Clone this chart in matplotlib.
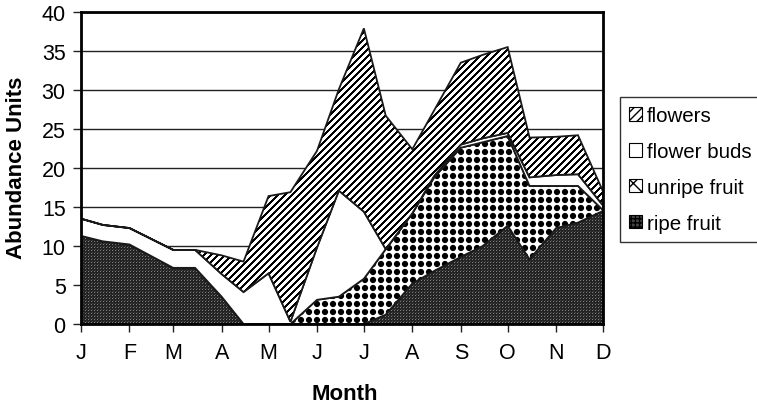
import datetime as dt

import numpy as np
import matplotlib
matplotlib.use("Agg")
import matplotlib.pyplot as plt
import matplotlib.dates as mdates
from matplotlib.patches import Patch, Polygon

plt.rcParams['font.family'] = ['Liberation Sans', 'DejaVu Sans']

# Sampling dates (1st and 15th of each month)
sample_dates = [
    (1, 1), (1, 15), (2, 1), (2, 15), (3, 1), (3, 15), (4, 1), (4, 15),
    (5, 1), (5, 15), (6, 1), (6, 15), (7, 1), (7, 15), (8, 1), (8, 15),
    (9, 1), (9, 15), (10, 1), (10, 15), (11, 1), (11, 15), (12, 1),
]

# Abundance per phenophase (stacked bottom to top)
ripe_fruit = [11.3, 10.6, 10.2, 8.7, 7.2, 7.2, 3.5, 0.0,
              0.0, 0.0, 0.0, 0.0, 0.0, 1.2, 5.2, 6.8,
              8.6, 10.0, 12.6, 8.3, 12.3, 13.0, 14.5]
unripe_fruit = [0.0, 0.0, 0.0, 0.0, 0.0, 0.0, 0.0, 0.0,
                0.0, 0.0, 3.1, 3.5, 5.8, 8.4, 9.0, 12.0,
                14.0, 13.3, 11.5, 9.4, 5.4, 4.7, 0.1]
flower_buds = [2.2, 2.1, 2.1, 2.2, 2.3, 2.3, 2.9, 4.1,
               6.5, 0.3, 6.7, 13.6, 8.6, 0.0, 0.0, 0.2,
               0.4, 0.5, 0.4, 1.1, 1.4, 1.5, 0.6]
flowers = [0.0, 0.0, 0.0, 0.0, 0.0, 0.0, 2.4, 3.9,
           9.9, 16.6, 12.4, 13.0, 23.5, 17.1, 8.2, 8.4,
           10.5, 10.7, 11.0, 5.1, 4.9, 5.0, 1.8]

series_names = ['ripe fruit', 'unripe fruit', 'flower buds', 'flowers']
month_labels = ['J', 'F', 'M', 'A', 'M', 'J', 'J', 'A', 'S', 'O', 'N', 'D']
year = 2005

W, H = 757, 406
fig = plt.figure(figsize=(W / 100, H / 100), dpi=100)
ax_l, ax_r, ax_t, ax_b = 81, 603, 13, 325
ax = fig.add_axes([ax_l / W, 1 - ax_b / H, (ax_r - ax_l) / W, (ax_b - ax_t) / H])

x = mdates.date2num([dt.date(year, m, d) for m, d in sample_dates])
x0 = mdates.date2num(dt.date(year, 1, 1))
x1 = mdates.date2num(dt.date(year, 12, 1))
ymax = 40

# Pixel-sized fill textures
pw, ph = ax_r - ax_l, ax_b - ax_t
yy, xx = np.mgrid[0:ph, 0:pw]


def stipple_texture():
    g = np.full((ph, pw), 0.14)
    g[(yy % 3 == 1) & (xx % 3 == 1)] = 0.5
    g[(yy % 3 == 0) & (xx % 3 == 2)] = 0.28
    return np.dstack([g, g, g])


def dot_texture(step=8, r=3.1):
    dx = (xx % step) - step / 2 + 0.5
    dy = (yy % step) - step / 2 + 0.5
    d = np.hypot(dx, dy)
    g = np.clip(d - r + 0.5, 0, 1)
    return np.dstack([g, g, g])


def stripe_texture(period=7, width=3):
    g = np.where(((xx + yy) % period) < width, 0.0, 1.0)
    return np.dstack([g, g, g])


def white_texture():
    return np.ones((ph, pw, 3))


textures = [stipple_texture(), dot_texture(), white_texture(), stripe_texture()]

stack = np.cumsum(np.array([ripe_fruit, unripe_fruit, flower_buds, flowers]), axis=0)
lower = np.zeros_like(x)
for i, tex in enumerate(textures):
    upper = stack[i]
    verts = np.concatenate([np.column_stack([x, upper]),
                            np.column_stack([x[::-1], lower[::-1]])])
    outline = Polygon(verts, closed=True, facecolor='none', edgecolor='#1a1a1a',
                      lw=1.3, zorder=3 + i * 0.1 + 0.05)
    clip = Polygon(verts, closed=True, transform=ax.transData)
    im = ax.imshow(tex, extent=(x0, x1, 0, ymax), aspect='auto',
                   interpolation='nearest', zorder=3 + i * 0.1)
    im.set_clip_path(clip)
    ax.add_patch(outline)
    lower = upper

ax.set_xlim(x0, x1)
ax.set_ylim(0, ymax)
ax.set_aspect('auto')

# Axes styling
ax.set_yticks(np.arange(0, ymax + 1, 5))
ax.yaxis.grid(True, color='#222222', lw=1.0)
ax.set_axisbelow(True)
month_ticks = mdates.date2num([dt.date(year, m, 1) for m in range(1, 13)])
ax.set_xticks(month_ticks)
ax.set_xticklabels(month_labels)
ax.tick_params(axis='both', direction='out', length=6, width=1, color='#222222',
               labelsize=15.5)
ax.tick_params(axis='x', pad=7)
ax.tick_params(axis='y', pad=5)
for s in ax.spines.values():
    s.set_linewidth(2)
    s.set_color('black')
    s.set_zorder(10)

fig.text(17 / W, 1 - 168 / H, 'Abundance Units', rotation=90, ha='center', va='center',
         fontsize=16, fontweight='bold')
fig.text(345 / W, 1 - 395 / H, 'Month', ha='center', va='center',
         fontsize=16, fontweight='bold')

handles = [
    Patch(facecolor='white', edgecolor='black', hatch='////', lw=0.8),
    Patch(facecolor='white', edgecolor='black', lw=0.8),
    Patch(facecolor='white', edgecolor='black', hatch='xx', lw=0.8),
    Patch(facecolor='#444444', edgecolor='black', hatch='++++', lw=0.8),
]
labels = series_names[::-1]
leg = fig.legend(handles, labels, loc='upper left', bbox_to_anchor=(620 / W, 1 - 98 / H),
                 borderaxespad=0, fontsize=14.8, frameon=True, fancybox=False,
                 edgecolor='#333333', framealpha=1, handlelength=0.62,
                 handleheight=0.62, handletextpad=0.25, labelspacing=0.82,
                 borderpad=0.45)
leg.get_frame().set_linewidth(1.0)

fig.savefig('out.png', dpi=100)
